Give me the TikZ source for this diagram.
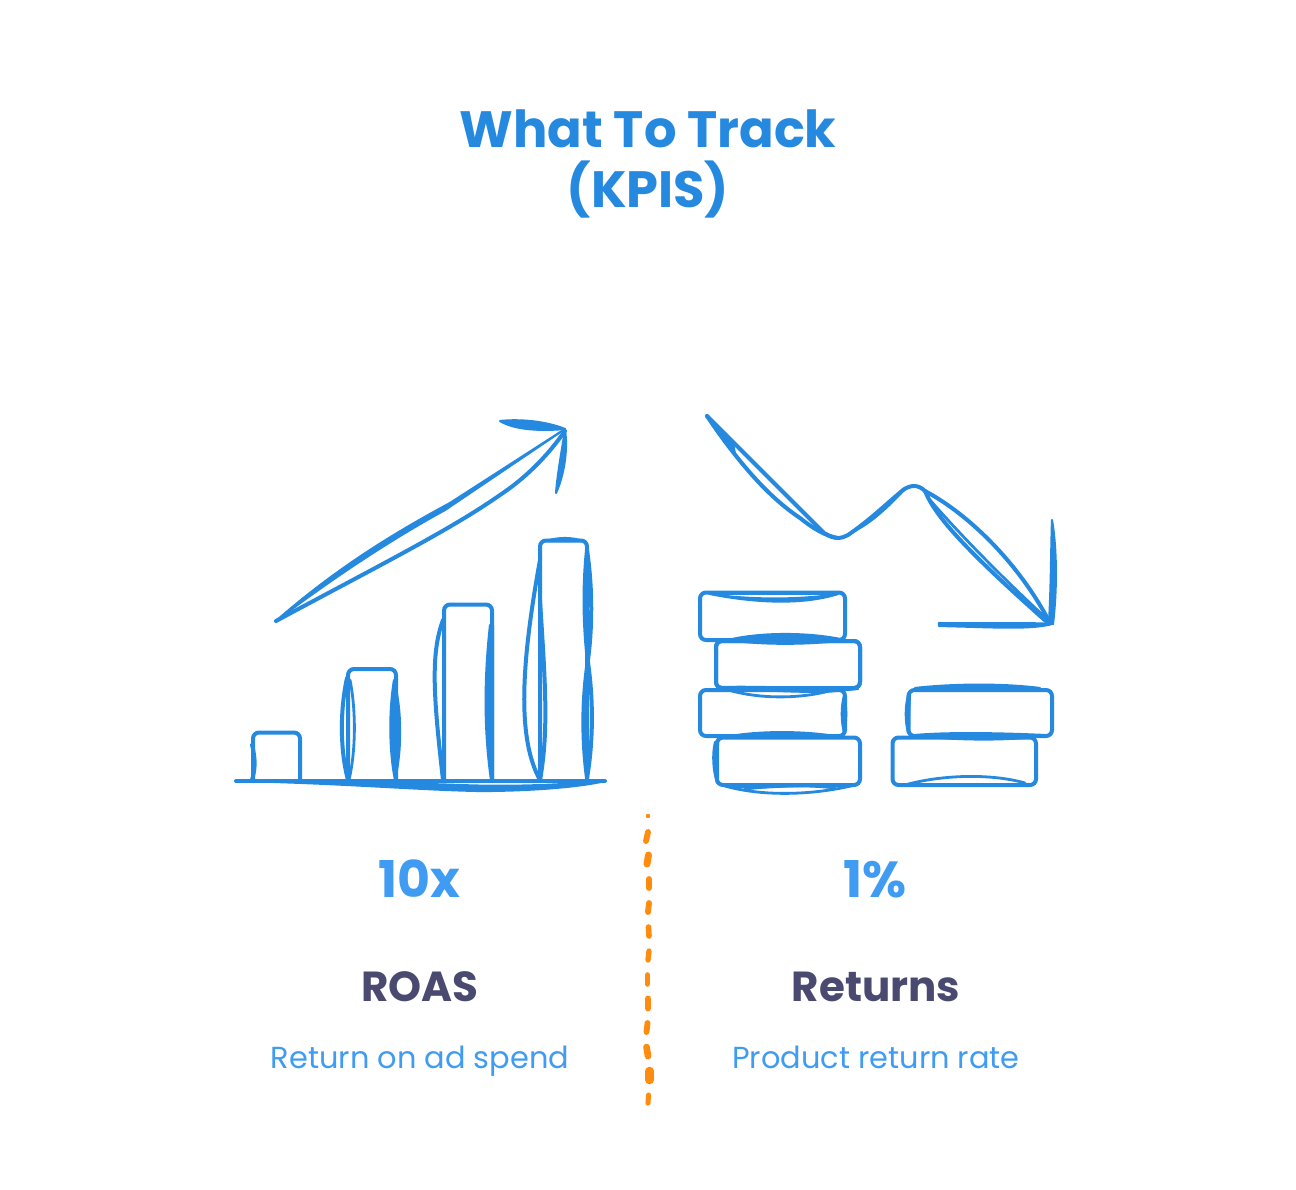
\documentclass[tikz,border=0pt]{standalone}
\usepackage{fontspec}
\setmainfont{Poppins}
\definecolor{skblue}{HTML}{2589E0}
\definecolor{lightblue}{HTML}{3F9CF2}
\definecolor{slate}{HTML}{4A4A70}
\definecolor{dashorange}{HTML}{FF8C0F}
\tikzset{
  sk/.style={draw=skblue,line width=3pt,line cap=round,line join=round},
  skthin/.style={draw=skblue,line width=2.1pt,line cap=round,line join=round},
  skfill/.style={fill=skblue,draw=skblue,line width=1.6pt,line cap=round,line join=round},
  box/.style={sk,rounded corners=4.5pt},
  od/.style={draw=dashorange,line cap=round},
  title/.style={text=skblue,font=\bfseries\fontsize{38.3}{38.3}\selectfont,inner sep=0pt,anchor=base},
  big/.style={text=lightblue,font=\bfseries\fontsize{38}{38}\selectfont,inner sep=0pt,anchor=base},
  head/.style={text=slate,font=\bfseries\fontsize{31.5}{31.5}\selectfont,inner sep=0pt,anchor=base},
  sub/.style={text=lightblue,font=\fontsize{22.8}{22.8}\selectfont,inner sep=0pt,anchor=base}
}
\begin{document}
\begin{tikzpicture}[x=0.75pt,y=-0.75pt]
\useasboundingbox[fill=white] (0,0) rectangle (1296,1189);
% texts
\node[title] (t1) at (648,147) {What To Track};
\node[title] (t2) at (648,207) {(KPIS)};
\node[big] (v1) at (419,897) {10x};
\node[big] (v2) at (875,897) {1\%};
\node[head] (h1) at (420,1001) {ROAS};
\node[head] (h2) at (876,1001) {Returns};
\node[sub] (s1) at (420,1068) {Return on ad spend};
\node[sub] (s2) at (876,1068) {Product return rate};
% up arrow
\fill[skfill] (276,621) .. controls (340,565) and (400,530) .. (450,503) -- (565,429) -- (445,510) .. controls (390,540) and (330,580) .. cycle;
\draw[sk] (276,621) .. controls (380,565) and (450,530) .. (500,495) .. controls (530,475) and (550,452) .. (565,431);
\fill[skfill] (500,421) .. controls (520,419) and (545,421) .. (565,429) .. controls (540,431) and (515,430) .. cycle;
\fill[skfill] (556,493) .. controls (558,470) and (562,450) .. (565,430) .. controls (568,450) and (564,475) .. cycle;
% bars
\draw[box] (253,780) -- (253,732.5) -- (300,732.5) -- (300,780);
\draw[sk] (252,745) .. controls (256,760) and (255,770) .. (252,780);
\draw[box] (348,780) -- (348,669) -- (396,669) -- (396,780);
\draw[sk] (347,678) .. controls (340,710) and (340,750) .. (348,780);
\draw[skthin] (350,680) .. controls (356,710) and (356,750) .. (349,780);
\fill[skfill] (394,680) .. controls (389,710) and (389,750) .. (395,780) .. controls (402,750) and (402,710) .. cycle;
\draw[box] (444,780) -- (444,604.5) -- (492,604.5) -- (492,780);
\draw[sk] (443,620) .. controls (430,655) and (434,700) .. (443,780);
\fill[skfill] (490,625) .. controls (484,680) and (484,730) .. (491,780) -- (493,780) -- (493,625) -- cycle;
\draw[box] (540,780) -- (540,540.5) -- (587,540.5) -- (587,780);
\fill[skfill] (545,541) .. controls (560,537) and (570,537) .. (584,541) -- cycle;
\draw[sk] (540,560) .. controls (520,670) and (518,740) .. (540,780);
\draw[sk] (540,600) .. controls (545,680) and (549,730) .. (540,780);
\draw[sk] (587,550) .. controls (593,590) and (592,630) .. (588,660) .. controls (582,700) and (582,740) .. (587,778);
\draw[sk] (587,550) .. controls (583,590) and (584,630) .. (589,670) .. controls (594,710) and (592,750) .. (587,778);
% baseline
\draw[sk] (236,781) -- (605,781);
\fill[skfill] (236,781) .. controls (340,783) and (420,790) .. (480,791) .. controls (530,791) and (580,787) .. (605,781) .. controls (560,785) and (510,787) .. (460,785) .. controls (400,783) and (320,781) .. cycle;
% down zigzag
\fill[skfill] (707,416) .. controls (716,431) and (725,443) .. (735,454) -- (733,443) -- cycle;
\draw[sk] (707,416) .. controls (740,465) and (770,498) .. (800,518) .. controls (815,530) and (825,535) .. (837,538);
\draw[sk] (707,416) -- (825,534);
\draw[sk] (826,534) .. controls (833,539) and (842,539) .. (848,535) .. controls (870,520) and (885,505) .. (903,490) .. controls (910,485) and (918,484) .. (925,491);
\fill[skfill] (850,533) .. controls (870,522) and (885,505) .. (905,489) .. controls (890,505) and (870,525) .. cycle;
\draw[sk] (925,491) .. controls (935,515) and (960,545) .. (1048,623);
\draw[skthin] (930,500) .. controls (965,540) and (1005,580) .. (1048,620);
\draw[sk] (925,491) .. controls (970,515) and (1020,565) .. (1050,623);
\fill[skfill] (1052,520) .. controls (1057,550) and (1057,590) .. (1053,624) -- (1049,622) .. controls (1051,590) and (1051,550) .. cycle;
\fill[skfill] (939,623) .. controls (980,624) and (1020,622) .. (1052,624) .. controls (1030,630) and (990,627) .. (939,626) -- cycle;
% coins
\draw[box] (700,592.5) rectangle (845,640);
\fill[skfill] (710,594) .. controls (750,602) and (800,606) .. (838,594) .. controls (800,600) and (750,600) .. cycle;
\draw[skthin] (710,594) -- (838,594);
\draw[sk,fill=white,rounded corners=4.5pt] (716,641) rectangle (860,688);
\fill[skfill] (728,640) .. controls (760,632) and (810,632) .. (845,640) .. controls (810,645) and (760,645) .. cycle;
\draw[box] (700,690) rectangle (845,736);
\draw[sk,rounded corners=4.5pt] (716,641) rectangle (860,688);
\draw[skthin] (725,689) .. controls (760,700) and (800,698) .. (825,692);
\fill[skfill] (720,687) .. controls (770,686) and (810,689) .. (858,689) -- (825,692) .. controls (790,692) and (750,690) .. cycle;
\fill[skfill] (844,695) .. controls (841,708) and (841,720) .. (844,733) .. controls (847,720) and (847,708) .. cycle;
\draw[sk,rounded corners=4.5pt] (717,737.5) rectangle (860,785);
\fill[skfill] (725,737) .. controls (760,730) and (810,731) .. (840,737) -- (725,737) -- cycle;
\fill[skfill] (715,742) .. controls (712,755) and (713,770) .. (717,783) -- (718,742) -- cycle;
\draw[skthin] (725,786) .. controls (760,796) and (810,796) .. (855,785);
\draw[skthin] (745,789) .. controls (780,785) and (810,785) .. (835,788);
\fill[skfill] (725,786) .. controls (760,790) and (800,784) .. (855,785) -- cycle;
\draw[sk,rounded corners=4.5pt] (892.5,737.5) rectangle (1036,785);
\draw[box] (908.5,690) rectangle (1052,736);
\fill[skfill] (915,688) .. controls (950,684) and (1000,683) .. (1040,688) -- cycle;
\fill[skfill] (908,695) .. controls (905,708) and (905,720) .. (908,733) -- (910,695) -- cycle;
\fill[skfill] (915,735) .. controls (950,732) and (1000,733) .. (1045,735) .. controls (1020,741) and (950,741) .. cycle;
\draw[skthin] (905,785) .. controls (940,775) and (990,773) .. (1025,783);
\draw[skthin] (905,786) -- (1030,786);
% orange dashed divider
\fill[dashorange] (648,816) circle (2.2);
\draw[od,line width=4.4pt] (648,832) -- (646,841);
\draw[od,line width=5.2pt] (648.5,855) -- (647,864);
\draw[od,line width=4.4pt] (649,879) -- (649,888);
\draw[od,line width=4.4pt] (649,903) -- (648,912);
\draw[od,line width=4.2pt] (648.5,927) -- (649,936);
\draw[od,line width=4pt] (649,951) -- (648,960);
\draw[od,line width=4.2pt] (647.5,975) -- (647.5,984);
\draw[od,line width=5.2pt] (648,999) -- (648,1008);
\draw[od,line width=4.4pt] (647.5,1023) -- (646.5,1032);
\draw[od,line width=5pt] (646.5,1047) -- (648,1056);
\draw[od,line width=6.4pt] (649.5,1071) -- (649.5,1080);
\draw[od,line width=3.8pt] (648.5,1095) -- (648,1103);
\end{tikzpicture}
\end{document}
